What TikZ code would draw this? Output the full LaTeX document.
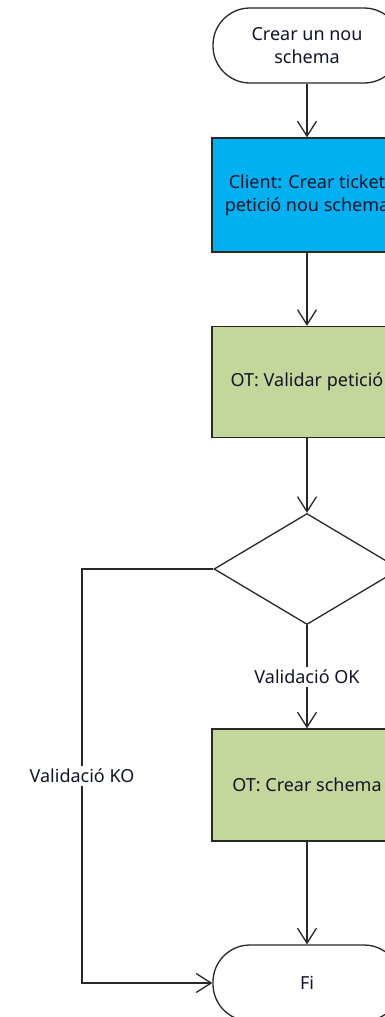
\documentclass[tikz,border=0pt]{standalone}
\usepackage{fontspec}
\setmainfont{Noto Sans}
\usetikzlibrary{shapes.geometric,arrows.meta,calc}
\definecolor{lineclr}{RGB}{40,40,40}
\definecolor{blueclr}{RGB}{0,176,240}
\definecolor{greenclr}{RGB}{196,215,155}
\definecolor{txtclr}{RGB}{20,20,40}
\begin{document}
\begin{tikzpicture}[x=1pt,y=-1pt,
  every node/.style={font=\fontsize{18}{23}\selectfont, text=txtclr, align=center},
  term/.style={draw=lineclr, line width=1.3pt, fill=white, rounded corners=37pt, minimum width=188pt, minimum height=75pt, inner sep=0pt},
  procblue/.style={draw=lineclr, line width=1.3pt, fill=blueclr, minimum width=190pt, minimum height=114pt, inner sep=0pt},
  procgreen/.style={draw=lineclr, line width=1.3pt, fill=greenclr, minimum width=190pt, minimum height=111pt, inner sep=0pt},
  decis/.style={draw=lineclr, line width=1.3pt, fill=white, diamond, aspect=1.676, minimum width=186pt, minimum height=111pt, inner sep=0pt},
  conn/.style={draw=lineclr, line width=1.3pt, -{Straight Barb[length=15pt,width=19pt,line width=1.3pt]}},
  lbl/.style={fill=white, inner sep=3pt}
]
\useasboundingbox (0,0) rectangle (385,1017);
\clip (0,0) rectangle (385,1017);
\node[term] (start) at (307,45.5) {Crear un nou\\schema};
\node[procblue] (client) at (307,195) {Client: Crear ticket\\petició nou schema};
\node[procgreen] (valid) at (307,382) {OT: Validar petició};
\node[decis] (dec) at (307,569) {};
\node[procgreen, minimum height=112pt] (crear) at (307,785) {OT: Crear schema};
\node[term, minimum height=76pt] (fi) at (307,983) {Fi};
\coordinate (kotop) at (82,569);
\coordinate (kobot) at (82,983);
\draw[conn] (start) -- (client);
\draw[conn] (client) -- (valid);
\draw[conn] (valid) -- (dec);
\draw[conn] (dec) -- node[lbl] {Validació OK} (crear);
\draw[conn] (crear) -- (fi);
\draw[conn] (dec.west) -- (kotop) -- node[lbl] {Validació KO} (kobot) -- (fi.west);
\end{tikzpicture}
\end{document}
